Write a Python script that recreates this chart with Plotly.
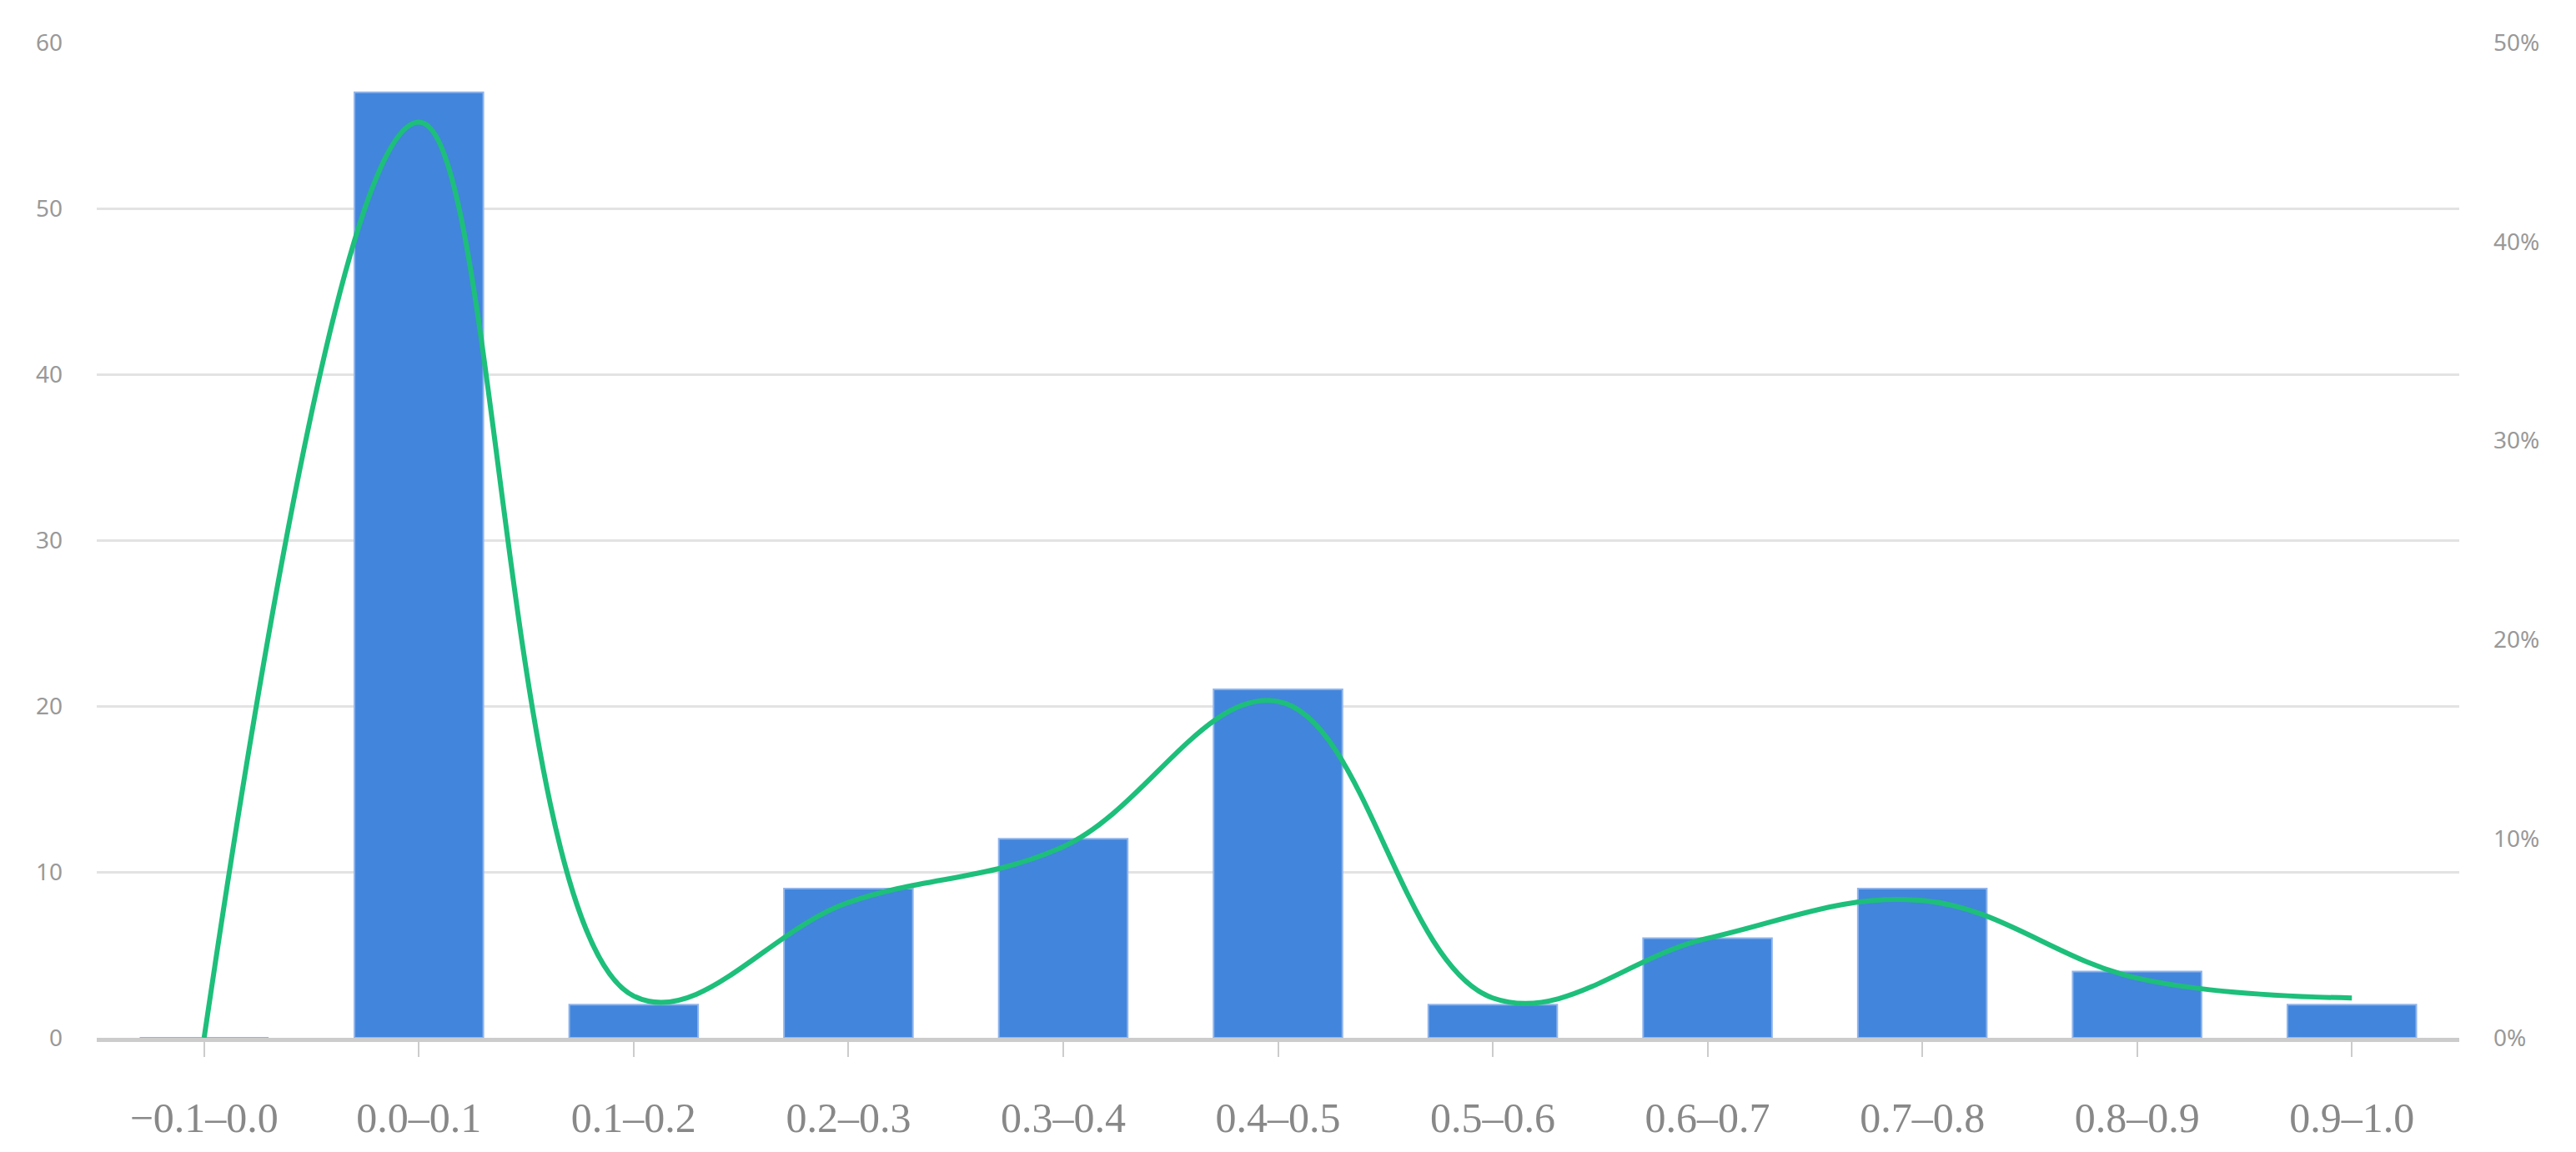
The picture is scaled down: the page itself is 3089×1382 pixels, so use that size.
import plotly.graph_objects as go

categories = ["−0.1–0.0", "0.0–0.1", "0.1–0.2", "0.2–0.3", "0.3–0.4", "0.4–0.5",
              "0.5–0.6", "0.6–0.7", "0.7–0.8", "0.8–0.9", "0.9–1.0"]
counts = [0, 57, 2, 9, 12, 21, 2, 6, 9, 4, 2]
percent = [0, 46, 2.1, 6.8, 9.6, 16.9, 2.0, 5.0, 6.9, 3.0, 2.0]
left_ticks = [0, 10, 20, 30, 40, 50, 60]
right_ticks = [0, 10, 20, 30, 40, 50]

fig = go.Figure()
fig.add_trace(go.Bar(x=categories, y=counts, width=0.6,
                     marker=dict(color="#4285dc", line=dict(color="#8fb4ec", width=2)),
                     yaxis="y"))
fig.add_trace(go.Scatter(x=categories, y=percent, mode="lines",
                         line=dict(color="#1dbf7a", width=6, shape="spline", smoothing=1.1),
                         yaxis="y2"))
fig.update_layout(
    width=3089, height=1382, paper_bgcolor="white", plot_bgcolor="white",
    showlegend=False, margin=dict(l=108, r=148, t=43, b=145),
    bargap=0.4,
    xaxis=dict(tickfont=dict(family="Liberation Serif", size=50, color="#888"),
               showline=True, linecolor="#cccccc", linewidth=5,
               ticks="outside", ticklen=18, tickwidth=2, tickcolor="#cccccc",
               showgrid=False, ticklabelstandoff=30),
    yaxis=dict(range=[0, 60], tickvals=left_ticks, showgrid=True, gridcolor="#e3e3e3",
               gridwidth=3, zeroline=False, tickfont=dict(family="Noto Sans", size=28, color="#999"),
               ticklabelstandoff=40),
    yaxis2=dict(range=[0, 50], tickvals=right_ticks, ticktext=[f"{v}%" for v in right_ticks],
                overlaying="y", side="right", showgrid=False, zeroline=False,
                tickfont=dict(family="Noto Sans", size=28, color="#999"), ticklabelstandoff=40),
)
fig.write_html("out.html")
